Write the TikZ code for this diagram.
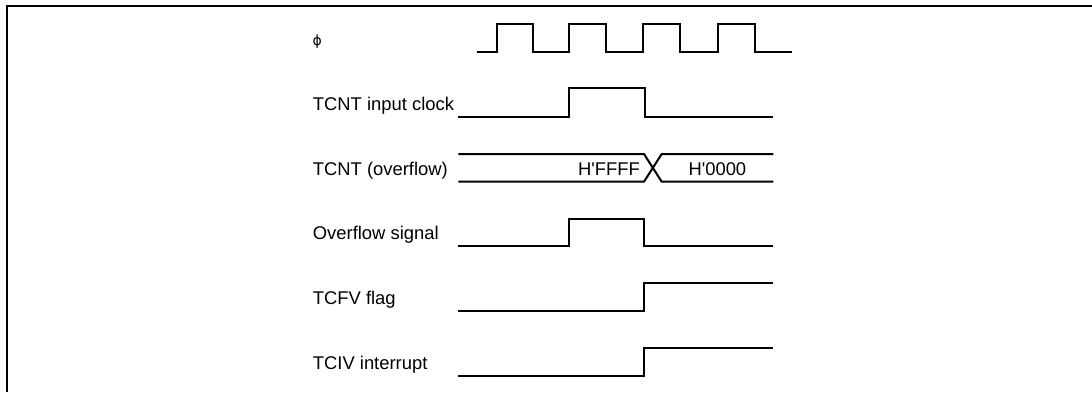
\documentclass[tikz,border=0pt]{standalone}
\usepackage{fontspec}
\setmainfont{Liberation Sans}[Ligatures=TeXOff]
\newfontfamily\phifont{DejaVu Sans}
\begin{document}
\begin{tikzpicture}[x=1pt,y=-1pt,
  wave/.style={line width=2pt, line join=miter, line cap=butt},
  lbl/.style={anchor=base west, inner sep=0pt, font=\fontsize{18.4}{22}\selectfont},
  val/.style={inner sep=0pt, font=\fontsize{18.4}{22}\selectfont}]
\useasboundingbox (0,0) rectangle (1092,392);
\draw[line width=2pt] (7,392) -- (7,6) -- (1092,6);

% labels
\node[lbl, font=\phifont\fontsize{14}{16}\selectfont] (phi) at (312.3,45.5) {ϕ};
\node[lbl] (clk) at (312.7,110) {TCNT input clock};
\node[lbl] (cnt) at (312.7,175) {TCNT (overflow)};
\node[lbl] (ovf) at (312.7,239) {Overflow signal};
\node[lbl] (tcfv) at (312.7,304.3) {TCFV flag};
\node[lbl] (tciv) at (312.7,369) {TCIV interrupt};

% phi clock
\draw[wave] (476.7,51.7) -- (496.7,51.7) -- (496.7,24) -- (532.7,24) -- (532.7,51.7)
  -- (569.3,51.7) -- (569.3,24) -- (605.7,24) -- (605.7,51.7)
  -- (643.3,51.7) -- (643.3,24) -- (680,24) -- (680,51.7)
  -- (718.3,51.7) -- (718.3,24) -- (755,24) -- (755,51.7) -- (791.7,51.7);

% TCNT input clock
\draw[wave] (458.3,116.7) -- (569.3,116.7) -- (569.3,88.3) -- (645,88.3) -- (645,116.7) -- (773.3,116.7);

% TCNT bus
\draw[wave] (458.3,154) -- (644,154) -- (661.7,181.7) -- (773.3,181.7);
\draw[wave] (458.3,181.7) -- (644,181.7) -- (661.7,154) -- (773.3,154);
\node[val, anchor=base east] (vffff) at (640,175) {H'FFFF};
\node[val, anchor=base west] (v0000) at (688.3,175) {H'0000};

% Overflow signal
\draw[wave] (458.3,246) -- (569.3,246) -- (569.3,219) -- (644,219) -- (644,246) -- (773.3,246);
% TCFV flag
\draw[wave] (458.3,311) -- (644,311) -- (644,283.3) -- (773.3,283.3);
% TCIV interrupt
\draw[wave] (458.3,375.7) -- (644,375.7) -- (644,347.7) -- (773.3,347.7);
\end{tikzpicture}
\end{document}
